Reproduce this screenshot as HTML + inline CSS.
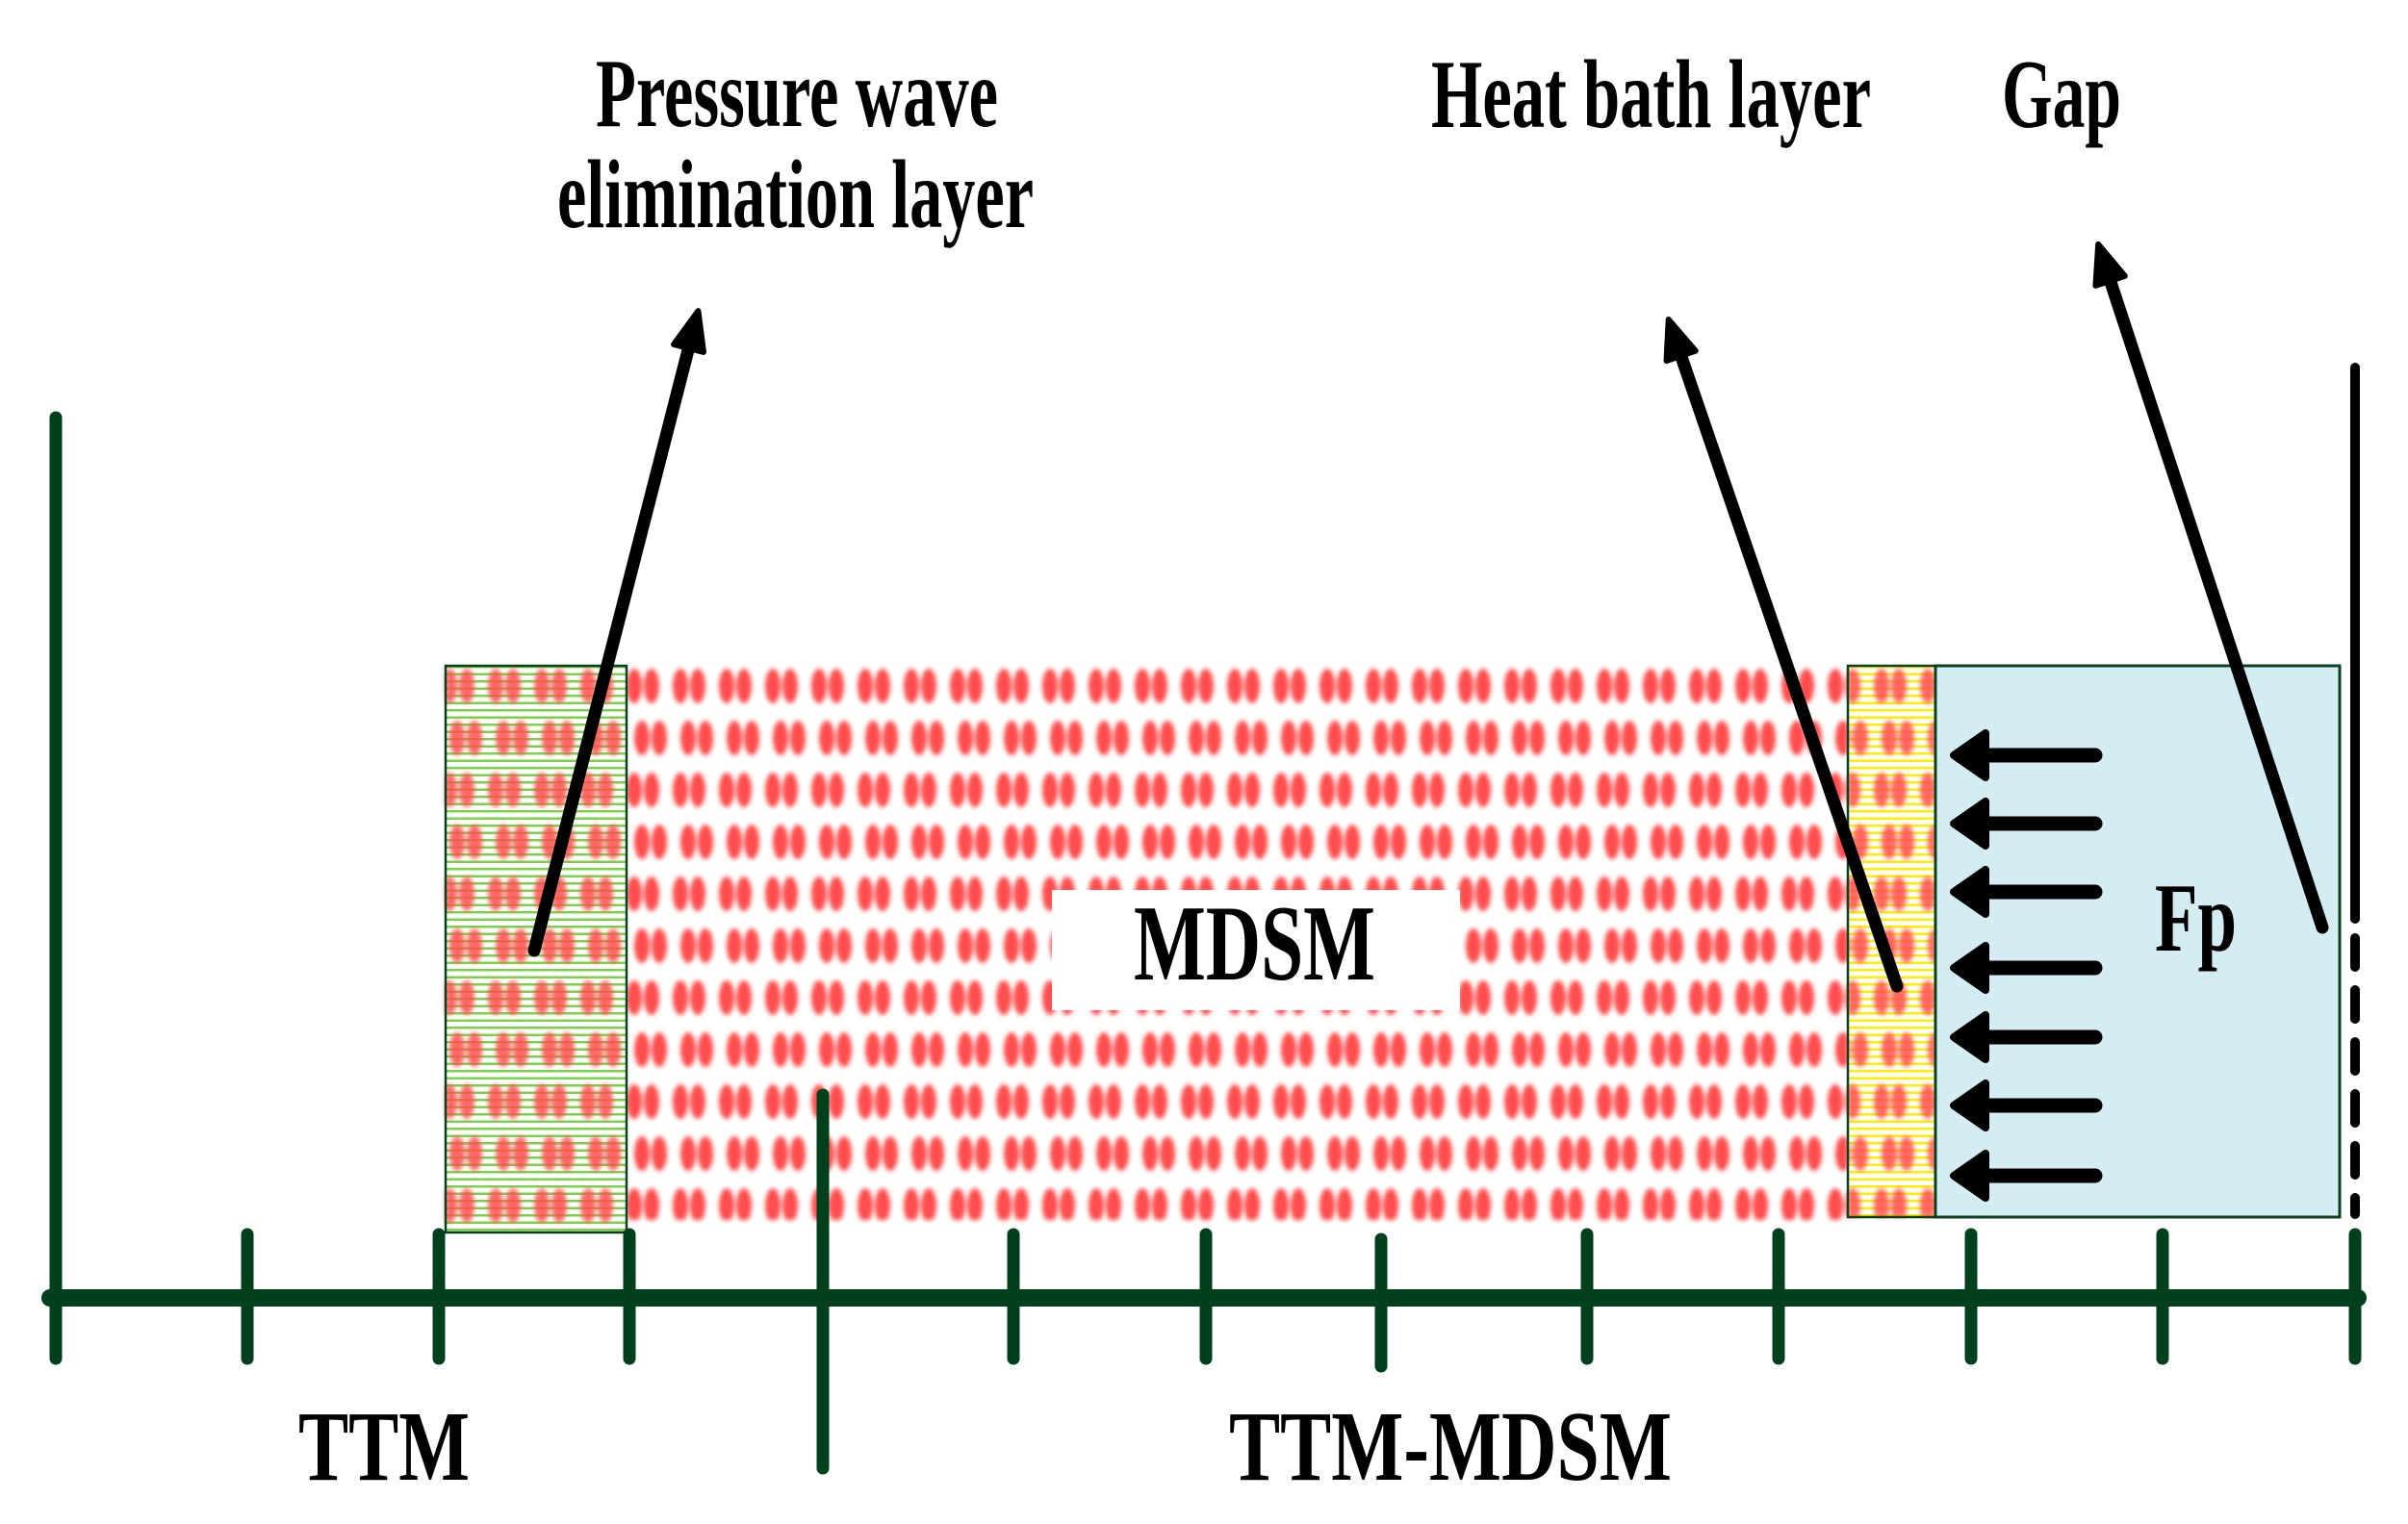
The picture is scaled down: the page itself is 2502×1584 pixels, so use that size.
<!DOCTYPE html>
<html><head><meta charset="utf-8"><style>html,body{margin:0;padding:0;background:#fff}svg{display:block}</style></head>
<body>
<svg width="2502" height="1584" viewBox="0 0 2502 1584" xmlns="http://www.w3.org/2000/svg">
<defs>
<pattern id="dots" x="651" y="686" width="96" height="108" patternUnits="userSpaceOnUse">
<g fill="#ff4d4d">
<ellipse cx="8" cy="27" rx="8" ry="18"/><ellipse cx="26" cy="27" rx="8" ry="18"/>
<ellipse cx="56" cy="27" rx="8" ry="18"/><ellipse cx="74" cy="27" rx="8" ry="18"/>
<ellipse cx="16" cy="81" rx="8" ry="18"/><ellipse cx="34" cy="81" rx="8" ry="18"/>
<ellipse cx="64" cy="81" rx="8" ry="18"/><ellipse cx="82" cy="81" rx="8" ry="18"/>
</g>
</pattern>
<pattern id="gstripe" x="0" y="692" width="10" height="7.5" patternUnits="userSpaceOnUse">
<rect width="10" height="2.5" fill="#7ad44a"/>
</pattern>
<pattern id="ystripe" x="0" y="692" width="10" height="7.5" patternUnits="userSpaceOnUse">
<rect width="10" height="2.5" fill="#ffee00"/>
</pattern>
<filter id="blur" x="-5%" y="-5%" width="110%" height="110%"><feGaussianBlur stdDeviation="2.5"/></filter>
<marker id="ah" markerUnits="userSpaceOnUse" markerWidth="60" markerHeight="60" refX="10" refY="25" orient="auto">
<path d="M8 9 L48 25 L8 41 Z" fill="#000" stroke="#000" stroke-width="6" stroke-linejoin="round"/>
</marker>
</defs>

<rect x="651" y="692" width="1269" height="576" fill="url(#dots)" filter="url(#blur)"/>

<rect x="463" y="692" width="188" height="589" fill="#fff"/>
<rect x="463" y="692" width="188" height="589" fill="url(#gstripe)"/>
<rect x="463" y="692" width="188" height="589" fill="url(#dots)" filter="url(#blur)" opacity="0.85"/>
<rect x="463" y="692" width="188" height="589" fill="none" stroke="#0a4020" stroke-width="2.5"/>

<rect x="1920" y="692" width="91" height="573" fill="#fff"/>
<rect x="1920" y="692" width="91" height="573" fill="url(#ystripe)"/>
<rect x="1920" y="692" width="91" height="573" fill="url(#dots)" filter="url(#blur)" opacity="0.85"/>
<rect x="1920" y="692" width="91" height="573" fill="none" stroke="#0a4020" stroke-width="2.5"/>

<rect x="2011" y="692" width="420" height="573" fill="#d4edf2" stroke="#0a4020" stroke-width="3"/>

<rect x="1093" y="925" width="424" height="125" fill="#fff"/>
<text x="1178" y="1018" font-family="Liberation Serif, serif" font-weight="bold" font-size="112" textLength="251" lengthAdjust="spacingAndGlyphs">MDSM</text>

<g stroke="#00401c" stroke-linecap="round" fill="none">
<line x1="52" y1="1349" x2="2450" y2="1349" stroke-width="18"/>
<g stroke-width="13">
<line x1="58" y1="434" x2="58" y2="1412"/>
<line x1="257" y1="1283" x2="257" y2="1412"/>
<line x1="456" y1="1283" x2="456" y2="1412"/>
<line x1="654" y1="1283" x2="654" y2="1412"/>
<line x1="855" y1="1138" x2="855" y2="1526"/>
<line x1="1053" y1="1283" x2="1053" y2="1412"/>
<line x1="1253" y1="1283" x2="1253" y2="1412"/>
<line x1="1435" y1="1288" x2="1435" y2="1420"/>
<line x1="1649" y1="1283" x2="1649" y2="1412"/>
<line x1="1848" y1="1283" x2="1848" y2="1412"/>
<line x1="2048" y1="1283" x2="2048" y2="1412"/>
<line x1="2247" y1="1283" x2="2247" y2="1412"/>
<line x1="2447" y1="1283" x2="2447" y2="1412"/>
</g>
</g>

<line x1="2447" y1="382" x2="2447" y2="955" stroke="#000" stroke-width="10" stroke-linecap="round"/>
<line x1="2447" y1="975" x2="2447" y2="1262" stroke="#000" stroke-width="10" stroke-dasharray="30 24" stroke-linecap="round"/>

<g stroke="#000" stroke-width="13" stroke-linecap="round" fill="none">
<line x1="555" y1="988" x2="716" y2="360" marker-end="url(#ah)"/>
<line x1="1971" y1="1025" x2="1746" y2="368" marker-end="url(#ah)"/>
<line x1="2413" y1="964" x2="2192" y2="290" marker-end="url(#ah)"/>
</g>

<g>
<g id="fa">
<line x1="2060" y1="785" x2="2177" y2="785" stroke="#000" stroke-width="15" stroke-linecap="round"/>
<path d="M2030 785 L2063 762 L2063 808 Z" fill="#000" stroke="#000" stroke-width="8" stroke-linejoin="round"/>
</g>
<use href="#fa" y="71"/>
<use href="#fa" y="142"/>
<use href="#fa" y="221"/>
<use href="#fa" y="293"/>
<use href="#fa" y="364"/>
<use href="#fa" y="437"/>
</g>

<g font-family="Liberation Serif, serif" font-weight="bold" fill="#000">
<text x="619" y="131" font-size="102" textLength="418" lengthAdjust="spacingAndGlyphs">Pressure wave</text>
<text x="579" y="236" font-size="102" textLength="495" lengthAdjust="spacingAndGlyphs">elimination layer</text>
<text x="1487" y="132" font-size="102" textLength="457" lengthAdjust="spacingAndGlyphs">Heat bath layer</text>
<text x="2080" y="132" font-size="102" textLength="124" lengthAdjust="spacingAndGlyphs">Gap</text>
<text x="2239" y="988" font-size="102" textLength="85" lengthAdjust="spacingAndGlyphs">Fp</text>
<text x="310" y="1538" font-size="104" textLength="178" lengthAdjust="spacingAndGlyphs">TTM</text>
<text x="1277" y="1538" font-size="104" textLength="460" lengthAdjust="spacingAndGlyphs">TTM-MDSM</text>
</g>
</svg>
</body></html>
